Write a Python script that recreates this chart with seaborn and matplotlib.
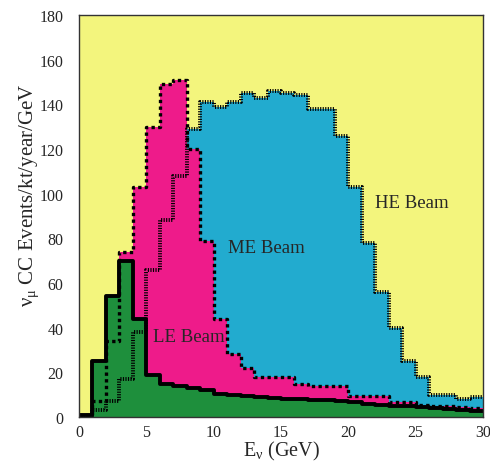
import matplotlib
matplotlib.use("Agg")
import matplotlib.pyplot as plt
import pandas as pd
import seaborn as sns

# 1 GeV bins from 0 to 30 GeV
bin_edges = list(range(0, 31))
bin_centers = [e + 0.5 for e in bin_edges[:-1]]

# nu_mu CC events / kt / year / GeV
le_beam = [1, 25, 54, 70, 44, 19, 15, 14, 13, 12, 10.5, 10, 9.5, 9, 8.5,
           8, 8, 7.5, 7.5, 7, 6.5, 6, 5.5, 5, 5, 4.5, 4, 3.5, 3, 2.5]
me_beam = [1, 7, 34, 74, 103, 130, 149, 151, 120, 79, 44, 28, 22, 18, 18,
           18, 15, 14, 14, 14, 9.5, 9.5, 9.5, 6.5, 6.5, 5.5, 5, 5, 4.5, 4]
he_beam = [0.5, 3, 7, 17, 38, 66, 88, 108, 129, 141, 139, 141, 145, 143, 146,
           145, 144, 138, 138, 126, 103, 78, 56, 40, 25, 18, 10, 10, 8, 9]

# name, values, fill colour, outline style, outline width
beams = [("HE Beam", he_beam, "#22abcf", (0, (0.3, 0.35)), 2.8),
         ("ME Beam", me_beam, "#ee1b8a", (0, (1, 1)), 2.4),
         ("LE Beam", le_beam, "#1e8f3c", "-", 2.8)]

sns.set_style("white")
plt.rcParams['font.family'] = ['Liberation Serif', 'DejaVu Serif']
plt.rcParams['mathtext.fontset'] = 'custom'
plt.rcParams['mathtext.rm'] = 'Liberation Serif'
plt.rcParams['mathtext.it'] = 'Liberation Serif'

fig = plt.figure(figsize=(4.9, 4.64), dpi=100)
ax = fig.add_axes([79 / 490, 1 - 418 / 464, 404 / 490, 402 / 464])
ax.set_facecolor("#f3f57d")

# filled areas first
for name, vals, col, ls, lw in beams:
    df = pd.DataFrame({"E": bin_centers, "w": vals})
    sns.histplot(data=df, x="E", weights="w", bins=bin_edges, element="step",
                 fill=True, color=col, alpha=1, linewidth=0, ax=ax)

# outlines on top
for name, vals, col, ls, lw in beams:
    df = pd.DataFrame({"E": bin_centers, "w": vals})
    sns.histplot(data=df, x="E", weights="w", bins=bin_edges, element="step",
                 fill=False, color="black", linewidth=lw, linestyle=ls, ax=ax)

ax.text(22.0, 94, "HE Beam", fontsize=13.5, va="baseline")
ax.text(11.1, 74, "ME Beam", fontsize=13.5, va="baseline")
ax.text(5.5, 34, "LE Beam", fontsize=13.5, va="baseline")

ax.set_xlim(0, 30)
ax.set_ylim(0, 180)
ax.set_xticks(range(0, 31, 5))
ax.set_yticks(range(0, 181, 20))
ax.tick_params(axis="both", length=0, labelsize=11.5)
ax.tick_params(axis="y", pad=11)
ax.tick_params(axis="x", pad=5)
for sp in ax.spines.values():
    sp.set_color("#333333")
    sp.set_linewidth(1)

ax.set_xlabel(r"E$_\nu$ (GeV)", fontsize=14.5, va="center")
ax.set_ylabel(r"$\nu_\mu$ CC Events/kt/year/GeV", fontsize=15, va="center")
ax.yaxis.set_label_coords(-0.122, 0.555)
ax.xaxis.set_label_coords(0.5, -0.083)

fig.savefig("out.png", dpi=100)
